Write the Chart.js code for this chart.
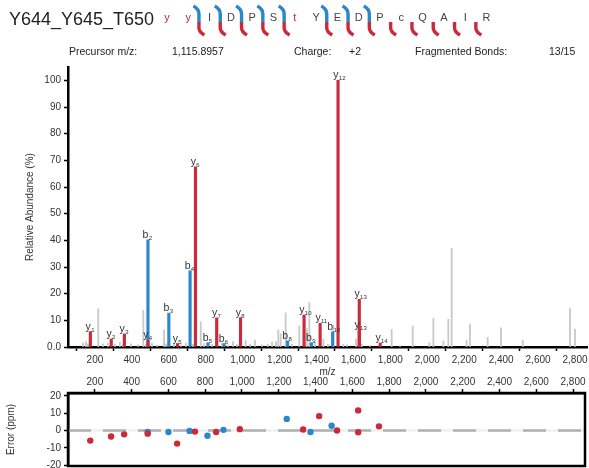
<!DOCTYPE html>
<html>
<head>
<meta charset="utf-8">
<script src="https://cdn.jsdelivr.net/npm/chart.js@4.4.0/dist/chart.umd.min.js"></script>
<style>
  html, body { margin: 0; padding: 0; background: #fff; overflow: hidden; }
  #wrap { position: relative; width: 589px; height: 468px; overflow: hidden; }
  #spectrum { position: absolute; left: 0; top: 0; }
  #errors { position: absolute; left: 0; top: 375px; }
</style>
</head>
<body>
<div id="wrap">
  <canvas id="spectrum" width="589" height="378"></canvas>
  <canvas id="errors" width="589" height="100"></canvas>
</div>
<script>
// Peptide header
const peptideName = 'Y644_Y645_T650';
const sequence = ['y', 'y', 'I', 'D', 'P', 'S', 't', 'Y', 'E', 'D', 'P', 'c', 'Q', 'A', 'I', 'R'];
const modifiedPositions = [0, 1, 6];
// bond k sits after residue k (1-based)
const bBonds = [2, 3, 4, 5, 6, 8, 9, 10];
const yBonds = [2, 3, 4, 5, 6, 8, 9, 10, 11, 12, 13, 14, 15];
const infoLabels = ['Precursor m/z:', 'Charge:', 'Fragmented Bonds:'];
const infoValues = ['1,115.8957', '+2', '13/15'];

// Annotated fragment ions
const yIonNames = ['y1', 'y2', 'y3', 'y4', 'y5', 'y6', 'y7', 'y8', 'y10', 'y11', 'y12', 'y13', 'y13', 'y14'];
const yIonMz = [175.12, 288.20, 359.24, 487.30, 647.33, 744.38, 859.41, 988.45, 1332.53, 1419.56, 1516.62, 1631.64, 1631.80, 1744.73];
const yIonIntensity = [5.8, 3.0, 4.9, 2.6, 1.3, 67.6, 10.9, 11.0, 12.0, 8.9, 100, 17.9, 6.2, 1.5];
const yIonError = [-5.8, -3.4, -2.2, -1.8, -7.5, -0.6, -0.8, 0.8, 0.6, 8.3, 0.0, 11.6, -1.0, 2.4];

const bIonNames = ['b2', 'b3', 'b4', 'b5', 'b6', 'b8', 'b9', 'b10'];
const bIonMz = [487.07, 600.15, 715.18, 812.23, 899.26, 1243.34, 1372.38, 1487.41];
const bIonIntensity = [40.2, 12.7, 28.6, 1.6, 1.3, 2.3, 1.6, 5.7];
const bIonError = [-0.8, -0.8, -0.2, -3.0, 0.4, 6.7, -0.8, 2.8];

// Unannotated peaks
const noiseMz = [135, 151, 162, 218, 243, 270, 308, 335, 352, 395, 433, 462, 476, 509, 536, 574, 585, 628, 666, 693,
  731, 773, 790, 834, 888, 920, 948, 969, 1016, 1040, 1067, 1105, 1137, 1159, 1180, 1193, 1206, 1233, 1267, 1307,
  1347, 1361, 1392, 1437, 1462, 1491, 1545, 1565, 1614, 1646, 1690, 1807, 1852, 1921, 2011, 2033, 2087, 2114, 2132,
  2213, 2231, 2327, 2399, 2517, 2773, 2800];
const noiseIntensity = [1.5, 2.0, 1.2, 14.3, 1.2, 1.5, 1.0, 1.8, 1.0, 1.2, 0.8, 13.7, 1.0, 1.5, 0.7, 6.4, 1.2, 1.0, 0.8, 1.5,
  1.0, 9.5, 1.3, 1.0, 1.5, 0.8, 2.0, 1.0, 2.6, 1.0, 2.6, 0.8, 1.0, 1.8, 2.0, 6.4, 5.0, 12.8, 1.0, 7.9,
  6.9, 16.7, 1.5, 2.9, 1.0, 8.2, 1.0, 0.8, 3.0, 1.0, 0.6, 6.6, 0.5, 7.9, 1.6, 10.7, 2.2, 10.4, 37.0,
  2.6, 8.6, 3.6, 7.2, 2.6, 14.5, 6.7];

// Axis ticks
const xTicks = [200, 400, 600, 800, 1000, 1200, 1400, 1600, 1800, 2000, 2200, 2400, 2600, 2800];
const yTicks = [0, 10, 20, 30, 40, 50, 60, 70, 80, 90, 100];
const errTicks = [-20, -10, 0, 10, 20];

const FONT = "'Liberation Sans', Arial, Helvetica, sans-serif";
const RED = '#cb2a3a';
const BLUE = '#2b87cd';
const GREY = '#cacaca';
const TEXT = '#333';

function toPoints(xs, ys) {
    return xs.map((x, i) => ({ x: x, y: ys[i] }));
}

// replace the generated ticks with a fixed list
const fixedTicks = list => scale => { scale.ticks = list.map(v => ({ value: v })); };

const axisGrid = { display: true, drawOnChartArea: false, drawTicks: true, tickLength: 4, tickWidth: 1.5, tickColor: '#000' };
const axisBorder = { display: true, color: '#000', width: 2.5 };
const tickFont = { family: FONT, size: 10 };

// ion labels on top of annotated peaks: letter + small subscript number
const ionLabels = {
    id: 'ionLabels',
    afterDatasetsDraw(chart) {
        const ctx = chart.ctx;
        [[0, yIonNames], [1, bIonNames]].forEach(([di, names]) => {
            chart.getDatasetMeta(di).data.forEach((bar, i) => {
                ctx.save();
                ctx.fillStyle = TEXT;
                ctx.textBaseline = 'alphabetic';
                ctx.font = '10.5px ' + FONT;
                ctx.textAlign = 'right';
                ctx.fillText(names[i][0], bar.x + 0.5, bar.y - 2);
                ctx.font = '6px ' + FONT;
                ctx.textAlign = 'left';
                ctx.fillText(names[i].slice(1), bar.x + 0.8, bar.y);
                ctx.restore();
            });
        });
    }
};

// title, sequence with fragment markers and precursor info
const header = {
    id: 'header',
    afterDraw(chart) {
        const ctx = chart.ctx;
        ctx.save();
        ctx.textBaseline = 'alphabetic';
        ctx.fillStyle = '#222';
        ctx.font = '18px ' + FONT;
        ctx.textAlign = 'left';
        ctx.fillText(peptideName, 9, 25);

        const x0 = 167, step = 21.3;
        ctx.font = '11px ' + FONT;
        ctx.textAlign = 'center';
        sequence.forEach((r, i) => {
            ctx.fillStyle = modifiedPositions.includes(i) ? RED : '#444';
            ctx.fillText(r, x0 + i * step, 21);
        });

        const mid = k => x0 + (k - 1) * step + step / 2;
        ctx.lineWidth = 3.4;
        ctx.lineCap = 'butt';
        ctx.lineJoin = 'round';
        ctx.strokeStyle = BLUE;
        bBonds.forEach(k => {
            const m = mid(k);
            ctx.beginPath();
            ctx.moveTo(m - 5.5, 6);
            ctx.quadraticCurveTo(m, 9, m, 14);
            ctx.lineTo(m, 22);
            ctx.stroke();
        });
        ctx.strokeStyle = RED;
        yBonds.forEach(k => {
            const m = mid(k);
            ctx.beginPath();
            ctx.moveTo(m, 22);
            ctx.lineTo(m, 28);
            ctx.quadraticCurveTo(m, 32, m + 5.5, 35);
            ctx.stroke();
        });

        ctx.font = '10.5px ' + FONT;
        ctx.fillStyle = '#222';
        ctx.textAlign = 'left';
        const labelX = [69, 294, 415];
        const valueX = [172, 349, 549];
        infoLabels.forEach((t, i) => {
            ctx.fillText(t, labelX[i], 55);
            ctx.fillText(infoValues[i], valueX[i], 55);
        });
        ctx.restore();
    }
};

new Chart(document.getElementById('spectrum'), {
    type: 'bar',
    data: {
        datasets: [
            { data: toPoints(yIonMz, yIonIntensity), backgroundColor: RED, barThickness: 2.5, grouped: false, order: 1 },
            { data: toPoints(bIonMz, bIonIntensity), backgroundColor: BLUE, barThickness: 2.5, grouped: false, order: 1 },
            { data: toPoints(noiseMz, noiseIntensity), backgroundColor: GREY, barThickness: 1.2, grouped: false, order: 3 }
        ]
    },
    options: {
        responsive: false,
        animation: false,
        layout: { padding: { top: 67, right: 2, bottom: 0, left: 0 } },
        plugins: { legend: { display: false }, tooltip: { enabled: false } },
        scales: {
            x: {
                type: 'linear', min: 54, max: 2865, offset: false,
                afterBuildTicks: fixedTicks(xTicks),
                afterFit: s => { s.height = 31; s.paddingLeft = 0; s.paddingRight = 0; },
                ticks: { autoSkip: false, maxRotation: 0, padding: 3, color: TEXT, font: tickFont,
                    callback: v => v.toLocaleString('en-US') },
                grid: axisGrid,
                border: axisBorder,
                title: { display: true, text: 'm/z', color: TEXT, font: tickFont, padding: { top: 0, bottom: 0 } }
            },
            y: {
                min: 0, max: 105,
                afterBuildTicks: fixedTicks(yTicks),
                afterFit: s => { s.width = 68; s.paddingTop = 0; s.paddingBottom = 0; },
                ticks: { padding: 3, color: TEXT, font: tickFont, callback: v => v === 0 ? '0.0' : String(v) },
                grid: axisGrid,
                border: axisBorder,
                title: { display: true, text: 'Relative Abundance (%)', color: TEXT, font: tickFont, padding: { top: 24, bottom: 0 } }
            }
        }
    },
    plugins: [ionLabels, header]
});

// dashed zero line and closed frame for the error plot
const zeroLine = {
    id: 'zeroLine',
    beforeDatasetsDraw(chart) {
        const ctx = chart.ctx, area = chart.chartArea;
        const y = chart.scales.y.getPixelForValue(0);
        ctx.save();
        ctx.lineWidth = 2.5;
        ctx.strokeStyle = '#f0f0f0';
        ctx.beginPath();
        ctx.moveTo(area.left, y);
        ctx.lineTo(area.right, y);
        ctx.stroke();
        ctx.strokeStyle = '#b0b0b0';
        ctx.setLineDash([23, 12]);
        ctx.beginPath();
        ctx.moveTo(area.left, y);
        ctx.lineTo(area.right, y);
        ctx.stroke();
        ctx.restore();
    }
};
const frame = {
    id: 'frame',
    afterDraw(chart) {
        const ctx = chart.ctx, a = chart.chartArea;
        ctx.save();
        ctx.strokeStyle = '#000';
        ctx.lineWidth = 2.5;
        ctx.strokeRect(a.left, a.top, a.right - a.left, a.bottom - a.top);
        ctx.restore();
    }
};

new Chart(document.getElementById('errors'), {
    type: 'scatter',
    data: {
        datasets: [
            { data: toPoints(yIonMz, yIonError), backgroundColor: RED, pointRadius: 3.2, borderWidth: 0 },
            { data: toPoints(bIonMz, bIonError), backgroundColor: BLUE, pointRadius: 3.2, borderWidth: 0 }
        ]
    },
    options: {
        responsive: false,
        animation: false,
        layout: { padding: { top: 0, right: 2, bottom: 9, left: 0 } },
        plugins: { legend: { display: false }, tooltip: { enabled: false } },
        scales: {
            x: {
                type: 'linear', position: 'top', min: 54, max: 2865, offset: false,
                afterBuildTicks: fixedTicks(xTicks),
                afterFit: s => { s.height = 18; s.paddingLeft = 0; s.paddingRight = 0; },
                ticks: { autoSkip: false, maxRotation: 0, padding: 1, color: TEXT, font: tickFont,
                    callback: v => v.toLocaleString('en-US') },
                grid: axisGrid,
                border: axisBorder
            },
            y: {
                min: -20.4, max: 21.6,
                afterBuildTicks: fixedTicks(errTicks),
                afterFit: s => { s.width = 68; s.paddingTop = 0; s.paddingBottom = 0; },
                ticks: { padding: 3, color: TEXT, font: tickFont, callback: v => String(v) },
                grid: axisGrid,
                border: axisBorder,
                title: { display: true, text: 'Error (ppm)', color: TEXT, font: tickFont, padding: { top: 5, bottom: 0 } }
            }
        }
    },
    plugins: [zeroLine, frame]
});
</script>
</body>
</html>
